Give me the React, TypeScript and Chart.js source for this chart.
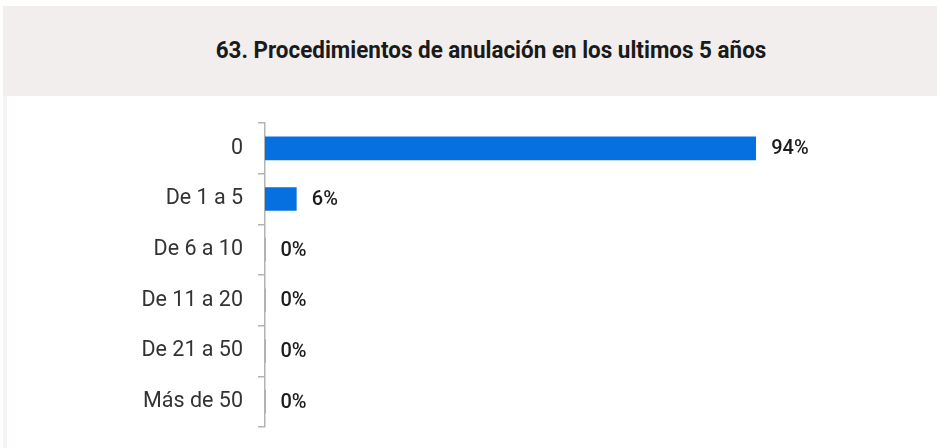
import React, { useEffect, useRef } from "react";
import { Chart, registerables } from "chart.js";

Chart.register(...registerables);

const title = "63. Procedimientos de anulación en los ultimos 5 años";
const categories = ["0", "De 1 a 5", "De 6 a 10", "De 11 a 20", "De 21 a 50", "Más de 50"];
const values = [94, 6, 0, 0, 0, 0];

const valueLabels = {
  id: "valueLabels",
  afterDatasetsDraw(chart: any) {
    const ctx = chart.ctx;
    const meta = chart.getDatasetMeta(0);
    ctx.save();
    ctx.font = "500 20px Roboto";
    ctx.fillStyle = "#1c1c1c";
    ctx.textAlign = "left";
    ctx.textBaseline = "middle";
    meta.data.forEach((bar: any, i: number) => {
      ctx.fillText(values[i] + "%", bar.x + 15.5, bar.y + 1);
    });
    ctx.restore();
  },
};

export default function App() {
  const ref = useRef<HTMLCanvasElement>(null);
  useEffect(() => {
    document.body.style.margin = "0";
    const chart = new Chart(ref.current!, {
      type: "bar",
      data: {
        labels: categories,
        datasets: [
          {
            data: values,
            backgroundColor: "#0670e1",
            barThickness: 23,
          },
        ],
      },
      options: {
        indexAxis: "y",
        animation: false,
        responsive: false,
        layout: { padding: { top: 27, bottom: 21, left: 0, right: 150 } },
        plugins: { legend: { display: false }, tooltip: { enabled: false } },
        scales: {
          x: { display: false, min: 0, max: 100 },
          y: {
            afterFit: (scale: any) => {
              scale.width = 265;
              scale.paddingTop = 0;
              scale.paddingBottom = 0;
            },
            grid: {
              display: true,
              drawOnChartArea: false,
              drawTicks: true,
              tickLength: 7,
              color: "#b3b3b3",
              offset: true,
              lineWidth: 1.5,
            },
            border: { display: true, color: "#b3b3b3", width: 1.5 },
            ticks: {
              padding: 15,
              color: "#333333",
              font: { family: "Roboto", size: 21.5 },
            },
          },
        },
      },
      plugins: [valueLabels],
    });
    return () => chart.destroy();
  }, []);

  return (
    <div style={{ position: "relative", width: 937, height: 448, background: "#fff", overflow: "hidden" }}>
      <div
        style={{
          position: "absolute",
          left: 3,
          top: 6,
          width: 934,
          height: 90,
          background: "#f1eeed",
        }}
      />
      <div
        style={{
          position: "absolute",
          left: 3,
          top: 96,
          width: 4,
          height: 352,
          background: "#f6f3f2",
        }}
      />
      <div
        style={{
          position: "absolute",
          left: 491 - 400,
          top: 6,
          width: 800,
          height: 88,
          display: "flex",
          alignItems: "center",
          justifyContent: "center",
          fontFamily: "Roboto, sans-serif",
          fontWeight: 700,
          fontSize: 24,
          color: "#1a1a1a",
          transform: "scaleX(0.935)",
        }}
      >
        {title}
      </div>
      <canvas
        ref={ref}
        width={937}
        height={352}
        style={{ position: "absolute", left: 0, top: 96, width: 937, height: 352 }}
      />
    </div>
  );
}
